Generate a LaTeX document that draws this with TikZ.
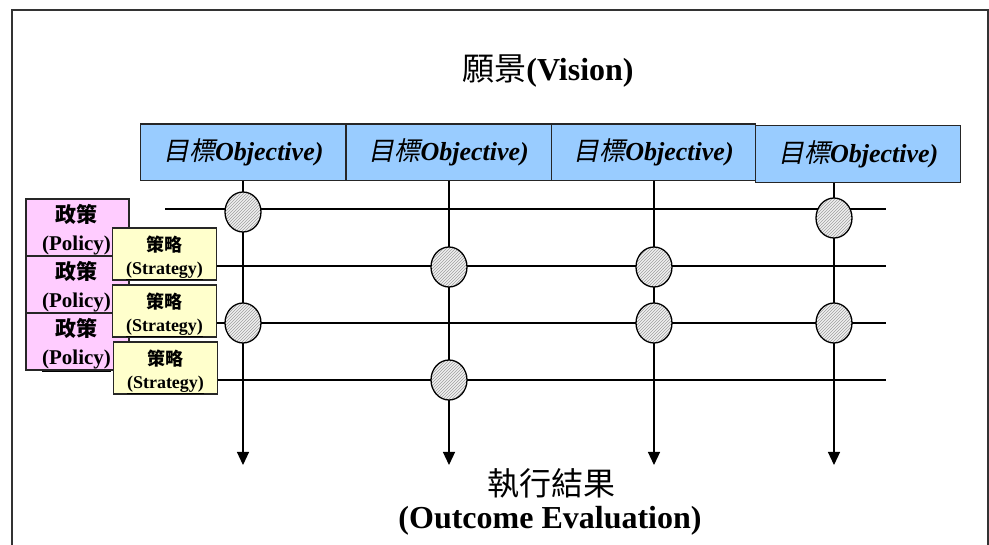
\documentclass[tikz,border=0pt]{standalone}
\usepackage{fontspec}
\setmainfont{Liberation Serif}
\newfontfamily\cjk{Noto Sans CJK TC}
\newfontfamily\cjksl[FakeSlant=0.2]{Noto Sans CJK TC}
\usetikzlibrary{shapes.geometric,patterns,arrows.meta}
\definecolor{objblue}{HTML}{99CCFF}
\definecolor{polpink}{HTML}{FFCCFF}
\definecolor{strayel}{HTML}{FFFFCC}
\definecolor{frameg}{HTML}{333333}
\begin{document}
\begin{tikzpicture}[x=1pt,y=-1pt,
  frameline/.style={draw=frameg,line width=1.5pt},
  objbox/.style={draw=black!85,line width=1.3pt,fill=objblue,minimum width=205pt,minimum height=56.5pt,inner sep=0pt,
    font=\fontsize{26}{30}\selectfont\bfseries\itshape},
  polbox/.style={draw=black!85,line width=1.2pt,fill=polpink,minimum width=103pt,minimum height=57pt,inner sep=0pt},
  poltext/.style={inner sep=0pt,align=center,font=\fontsize{21}{28}\selectfont\bfseries},
  strbox/.style={draw=black!85,line width=1.2pt,fill=strayel,minimum width=104pt,minimum height=52pt,inner sep=0pt},
  strtext/.style={inner sep=0pt,align=center,font=\fontsize{18}{23}\selectfont\bfseries},
  gridline/.style={draw=black,line width=1.2pt},
  arrowline/.style={gridline,-{Triangle[width=12pt,length=13pt]}},
  hit/.style={ellipse,draw=black,line width=1.3pt,minimum width=36pt,minimum height=40pt,inner sep=0pt,
    preaction={fill=gray!12},pattern=north east lines,pattern color=gray!75},
  title/.style={font=\fontsize{32}{36}\selectfont\bfseries,inner sep=0pt}
]
\useasboundingbox (0,0) rectangle (989,545);
\draw[frameline] (12,545) -- (12,10) -- (988,10) -- (988,545);

% title
\node[title] (vision) at (548,71) {{\cjk\mdseries 願景}(Vision)};

% objective boxes
\node[objbox] (o1) at (243.3,152.3) {{\cjksl\mdseries 目標}Objective)};
\node[objbox] (o2) at (448.7,152.3) {{\cjksl\mdseries 目標}Objective)};
\node[objbox,minimum width=204pt] (o3) at (653.5,152.3) {{\cjksl\mdseries 目標}Objective)};
\node[objbox] (o4) at (858.2,154) {{\cjksl\mdseries 目標}Objective)};

% arrow end points
\coordinate (a1) at (243,465);
\coordinate (a2) at (449,465);
\coordinate (a3) at (654,465);
\coordinate (a4) at (834,465);

% horizontal line ends
\coordinate (r1s) at (165,209);
\coordinate (r1e) at (886,209);
\coordinate (r2e) at (886,266);
\coordinate (r3e) at (886,323);
\coordinate (r4e) at (886,380);

% grid lines
\draw[arrowline] (o1.south -| a1) -- (a1);
\draw[arrowline] (o2.south -| a2) -- (a2);
\draw[arrowline] (o3.south -| a3) -- (a3);
\draw[arrowline] (o4.south -| a4) -- (a4);
\draw[gridline] (r1s) -- (r1e);
\draw[gridline] (217,266) coordinate (r2s) -- (r2e);
\draw[gridline] (217,323) coordinate (r3s) -- (r3e);
\draw[gridline] (217,380) coordinate (r4s) -- (r4e);

% intersections
\node[hit] (c1) at (243,212) {};
\node[hit] (c2) at (449,267) {};
\node[hit] (c3) at (654,267) {};
\node[hit] (c4) at (243,323) {};
\node[hit] (c5) at (654,323) {};
\node[hit] (c6) at (834,218) {};
\node[hit] (c7) at (834,323) {};
\node[hit] (c8) at (449,380) {};

% policy boxes
\node[polbox] (p1) at (77.5,227.5) {};
\node[poltext] (p1t) at (76.5,231) {\cjk 政策\\\underline{(Policy)}};
\node[polbox] (p2) at (77.5,284.5) {};
\node[poltext] (p2t) at (76.5,288) {\cjk 政策\\\underline{(Policy)}};
\node[polbox] (p3) at (77.5,341.5) {};
\node[poltext] (p3t) at (76.5,345) {\cjk 政策\\\underline{(Policy)}};
% strategy boxes
\node[strbox] (s1) at (164.2,254) {};
\node[strtext] (s1t) at (164.5,258) {\cjk 策略\\\underline{(Strategy)}};
\node[strbox] (s2) at (164.2,311) {};
\node[strtext] (s2t) at (164.5,315) {\cjk 策略\\\underline{(Strategy)}};
\node[strbox] (s3) at (165.5,368) {};
\node[strtext] (s3t) at (165.5,372) {\cjk 策略\\\underline{(Strategy)}};

% outcome
\node[font=\fontsize{32}{36}\selectfont,inner sep=0pt] (out1) at (551,483) {\cjk 執行結果};
\node[title] (out2) at (550,521) {(Outcome Evaluation)};
\end{tikzpicture}
\end{document}
